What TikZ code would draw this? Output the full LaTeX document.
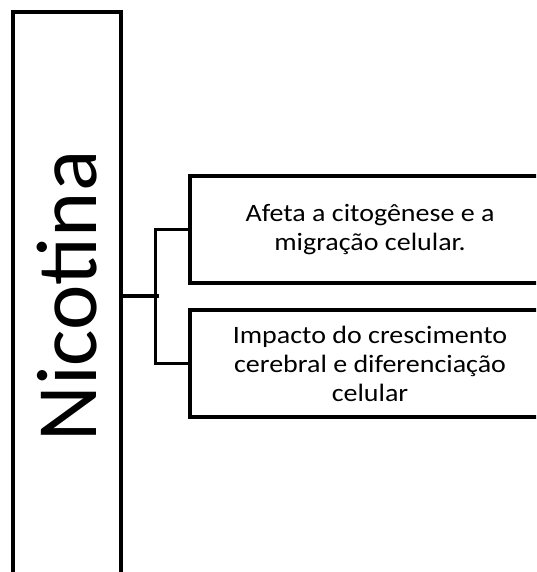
\documentclass[tikz,border=0pt]{standalone}
\usepackage{fontspec}
\setmainfont{Carlito}
\newfontfamily\boxfont[FakeStretch=1.12]{Carlito}
\usepackage{tikz}
\tikzset{font={\boxfont\fontsize{25pt}{29pt}\selectfont}}

\begin{document}
\begin{tikzpicture}[x=1pt,y=-1pt,line width=3.2pt,node distance=134pt,
                    big node/.style={rectangle,draw,minimum width=108pt,minimum height=568pt,inner sep=0pt,
                                     font={\rmfamily\fontsize{86pt}{90pt}\selectfont}},
                    sub node/.style={rectangle,draw,minimum width=360pt,minimum height=107pt,align=center,inner sep=0pt}]
  \clip (0,0) rectangle (536,572);

  \node[big node] (nic) at (67,296) {\rotatebox{90}{Nicotina}};
  \node[sub node] (cit) at (370,229.5) {Afeta a citogênese e a\\migração celular.};
  \node[sub node] (cre) [below of=cit] {Impacto do crescimento\\cerebral e diferenciação\\celular};

  \draw (nic.east) -- ++(36,0) coordinate (j);
  \draw (cit.west) -- ++(-33,0) |- (cre.west);
\end{tikzpicture}
\end{document}
